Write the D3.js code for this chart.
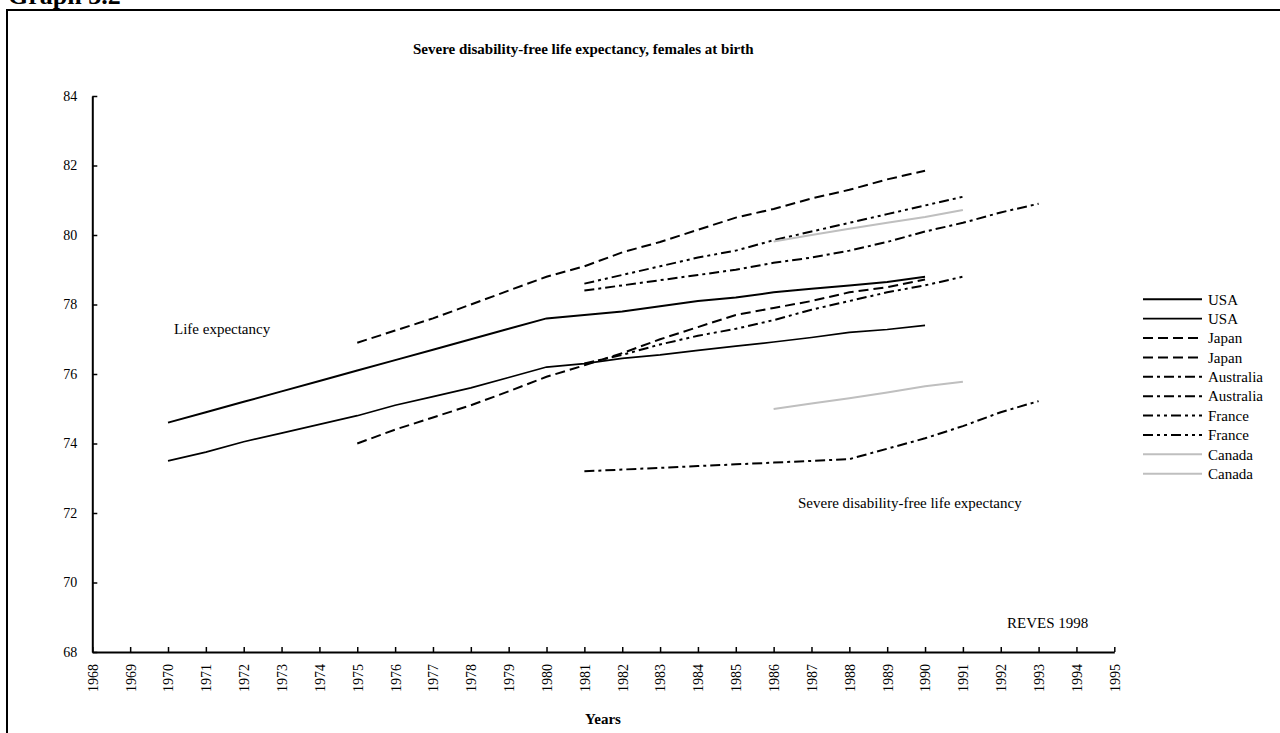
<!DOCTYPE html>
<html>
<head>
<meta charset="utf-8">
<title>Graph 3.2</title>
<script src="https://cdn.jsdelivr.net/npm/d3@7"></script>
<style>
  body { margin: 0; background: #fff; }
  svg text { font-family: "Liberation Serif", "Times New Roman", serif; fill: #000; }
</style>
</head>
<body>
<script>

// Years covered by each series
var years7090 = [1970, 1971, 1972, 1973, 1974, 1975, 1976, 1977, 1978, 1979, 1980,
                 1981, 1982, 1983, 1984, 1985, 1986, 1987, 1988, 1989, 1990];
var years7590 = [1975, 1976, 1977, 1978, 1979, 1980, 1981, 1982, 1983, 1984, 1985,
                 1986, 1987, 1988, 1989, 1990];
var years8193 = [1981, 1982, 1983, 1984, 1985, 1986, 1987, 1988, 1989, 1990, 1991, 1992, 1993];
var years8191 = [1981, 1982, 1983, 1984, 1985, 1986, 1987, 1988, 1989, 1990, 1991];
var years8691 = [1986, 1987, 1988, 1989, 1990, 1991];

// Life expectancy (LE) and severe disability-free life expectancy (SDFLE), females at birth
var usaLE = [74.6, 74.9, 75.2, 75.5, 75.8, 76.1, 76.4, 76.7, 77.0, 77.3, 77.6,
             77.7, 77.8, 77.95, 78.1, 78.2, 78.35, 78.45, 78.55, 78.65, 78.8];
var usaSDFLE = [73.5, 73.75, 74.05, 74.3, 74.55, 74.8, 75.1, 75.35, 75.6, 75.9, 76.2,
                76.3, 76.45, 76.55, 76.68, 76.8, 76.92, 77.05, 77.2, 77.28, 77.4];
var japanLE = [76.9, 77.25, 77.6, 78.0, 78.4, 78.8, 79.1, 79.5, 79.8, 80.15, 80.5,
               80.75, 81.05, 81.3, 81.6, 81.85];
var japanSDFLE = [74.0, 74.4, 74.75, 75.1, 75.5, 75.92, 76.25, 76.6, 77.0, 77.35, 77.7,
                  77.9, 78.1, 78.35, 78.5, 78.72];
var australiaLE = [78.4, 78.55, 78.7, 78.85, 79.0, 79.2, 79.35, 79.55, 79.8, 80.1, 80.35, 80.65, 80.9];
var australiaSDFLE = [73.2, 73.25, 73.3, 73.35, 73.4, 73.45, 73.5, 73.55, 73.85, 74.15, 74.5, 74.9, 75.22];
var franceLE = [78.6, 78.85, 79.1, 79.35, 79.55, 79.85, 80.1, 80.35, 80.6, 80.85, 81.1];
var franceSDFLE = [76.3, 76.55, 76.85, 77.1, 77.3, 77.55, 77.85, 78.1, 78.35, 78.55, 78.8];
var canadaLE = [79.81, 80.0, 80.18, 80.35, 80.52, 80.72];
var canadaSDFLE = [74.99, 75.15, 75.3, 75.47, 75.65, 75.78];

// Axis ticks
var xTicks = [1968, 1969, 1970, 1971, 1972, 1973, 1974, 1975, 1976, 1977, 1978, 1979, 1980, 1981,
              1982, 1983, 1984, 1985, 1986, 1987, 1988, 1989, 1990, 1991, 1992, 1993, 1994, 1995];
var yTicks = [68, 70, 72, 74, 76, 78, 80, 82, 84];

// Legend order, same as the series list below
var legendNames = ["USA", "USA", "Japan", "Japan", "Australia", "Australia",
                   "France", "France", "Canada", "Canada"];

// Line styles
var dashJapan = "10,5";
var dashAustralia = "10,4,3,4";
var dashFrance = "10,4,3,4,3,4";

var series = [
  {years: years7090, values: usaLE, dash: null, color: "#000", width: 2},
  {years: years7090, values: usaSDFLE, dash: null, color: "#000", width: 1.7},
  {years: years7590, values: japanLE, dash: dashJapan, color: "#000", width: 2},
  {years: years7590, values: japanSDFLE, dash: dashJapan, color: "#000", width: 2},
  {years: years8193, values: australiaLE, dash: dashAustralia, color: "#000", width: 2},
  {years: years8193, values: australiaSDFLE, dash: dashAustralia, color: "#000", width: 2},
  {years: years8191, values: franceLE, dash: dashFrance, color: "#000", width: 2},
  {years: years8191, values: franceSDFLE, dash: dashFrance, color: "#000", width: 2},
  {years: years8691, values: canadaLE, dash: null, color: "#bfbfbf", width: 2},
  {years: years8691, values: canadaSDFLE, dash: null, color: "#bfbfbf", width: 2}
];

var width = 1280;
var height = 733;

var svg = d3.select("body")
            .append("svg")
            .attr("width", width)
            .attr("height", height);

// Page frame and heading
svg.append("rect")
    .attr("x", 7)
    .attr("y", 10)
    .attr("width", 1290)
    .attr("height", 740)
    .attr("fill", "none")
    .attr("stroke", "#000")
    .attr("stroke-width", 2);

svg.append("text")
    .attr("x", 8)
    .attr("y", 4)
    .style("font-size", "26px")
    .style("font-weight", "bold")
    .text("Graph 3.2");

// Scales
var xScale = d3.scaleLinear()
               .domain([1968, 1995])
               .range([92.3, 1114.3]);

var yScale = d3.scaleLinear()
               .domain([68, 84])
               .range([652, 96]);

// Axes
var xAxis = d3.axisBottom(xScale)
              .tickValues(xTicks)
              .tickSizeInner(-5)
              .tickSizeOuter(0)
              .tickFormat(d3.format("d"));
var yAxis = d3.axisLeft(yScale)
              .tickValues(yTicks)
              .tickSizeInner(-5)
              .tickSizeOuter(0)
              .tickPadding(15)
              .tickFormat(d3.format("d"));

var gx = svg.append("g")
    .attr("transform", "translate(0," + yScale(68) + ")")
    .call(xAxis);
gx.selectAll("text")
    .attr("transform", "rotate(-90)")
    .attr("text-anchor", "end")
    .attr("x", -12)
    .attr("y", 0)
    .attr("dy", "0.35em")
    .style("font-size", "14px");

var gy = svg.append("g")
    .attr("transform", "translate(" + xScale(1968) + ",0)")
    .call(yAxis);
gy.selectAll("text").style("font-size", "14px");

[gx, gy].forEach(function(g) {
  g.select(".domain").attr("stroke", "#000").attr("stroke-width", 2);
  g.selectAll(".tick line").attr("stroke", "#000").attr("stroke-width", 1.5);
});

// Lines
var line = d3.line()
             .x(function(d) { return xScale(d[0]); })
             .y(function(d) { return yScale(d[1]); });

series.forEach(function(s) {
  svg.append("path")
      .datum(d3.zip(s.years, s.values))
      .attr("d", line)
      .attr("fill", "none")
      .attr("stroke", s.color)
      .attr("stroke-width", s.width)
      .attr("stroke-dasharray", s.dash);
});

// Titles and notes
svg.append("text")
    .attr("x", 413)
    .attr("y", 54)
    .style("font-size", "15px")
    .style("font-weight", "bold")
    .text("Severe disability-free life expectancy, females at birth");

svg.append("text")
    .attr("x", 174)
    .attr("y", 334)
    .style("font-size", "15px")
    .text("Life expectancy");

svg.append("text")
    .attr("x", 798)
    .attr("y", 508)
    .style("font-size", "15px")
    .text("Severe disability-free life expectancy");

svg.append("text")
    .attr("x", 1007)
    .attr("y", 628)
    .style("font-size", "15px")
    .text("REVES 1998");

svg.append("text")
    .attr("x", 603)
    .attr("y", 724)
    .attr("text-anchor", "middle")
    .style("font-size", "15px")
    .style("font-weight", "bold")
    .text("Years");

// Legend
var legendY = d3.scaleLinear()
                .domain([0, legendNames.length - 1])
                .range([299.3, 473.7]);

legendNames.forEach(function(name, i) {
  var s = series[i];
  svg.append("line")
      .attr("x1", 1143)
      .attr("x2", 1202)
      .attr("y1", legendY(i))
      .attr("y2", legendY(i))
      .attr("stroke", s.color)
      .attr("stroke-width", s.width)
      .attr("stroke-dasharray", s.dash);
  svg.append("text")
      .attr("x", 1208)
      .attr("y", legendY(i))
      .attr("dy", "0.35em")
      .style("font-size", "15px")
      .text(name);
});

</script>
</body>
</html>
